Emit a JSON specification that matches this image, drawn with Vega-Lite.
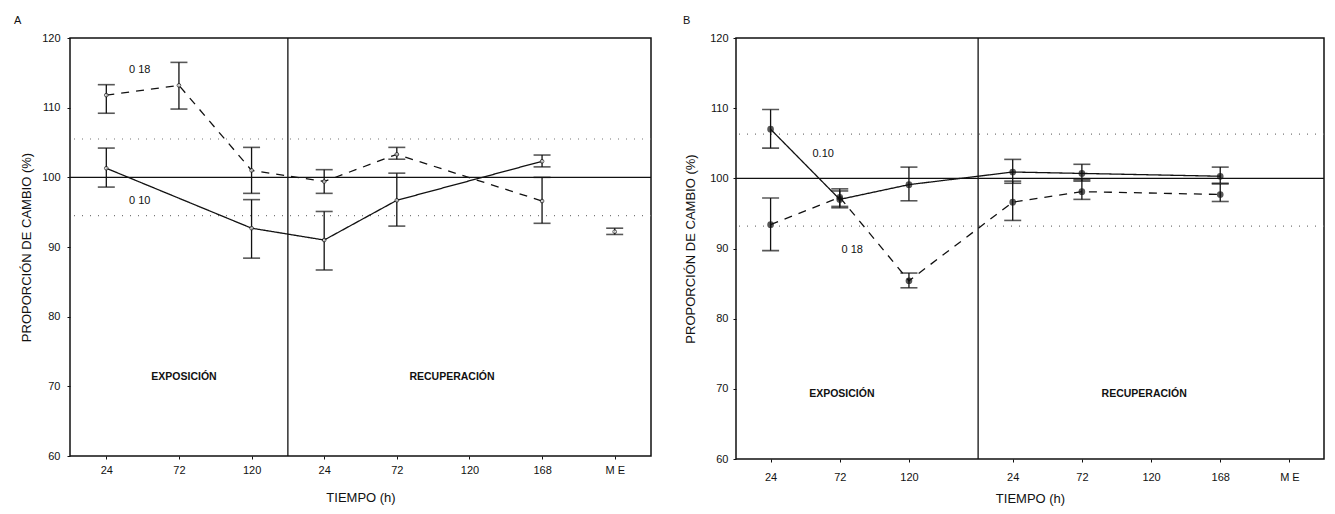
{
  "$schema": "https://vega.github.io/schema/vega-lite/v6.json",
  "background": "white",
  "padding": {"left": 13, "top": 14, "right": 5, "bottom": 5},
  "bounds": "flush",
  "spacing": 85,
  "config": {
    "font": "Liberation Sans",
    "view": {"stroke": "#111", "strokeWidth": 1.5},
    "axis": {"grid": false, "domain": false, "labelFontSize": 11, "titleFontSize": 13, "titleFontWeight": "normal", "labelColor": "#111", "titleColor": "#111", "tickColor": "#111", "tickSize": 3, "labelPadding": 6},
    "title": {"anchor": "start", "frame": "group", "fontSize": 11, "fontWeight": "normal", "color": "#111", "offset": 6}
  },
  "datasets": {
    "A": [
      {"serie": "0.18", "x": 0.5, "tiempo": "24", "fase": "exposición", "m": 111.8, "lo": 109.2, "hi": 113.3},
      {"serie": "0.18", "x": 1.5, "tiempo": "72", "fase": "exposición", "m": 113.2, "lo": 109.8, "hi": 116.5},
      {"serie": "0.18", "x": 2.5, "tiempo": "120", "fase": "exposición", "m": 101.0, "lo": 97.7, "hi": 104.3},
      {"serie": "0.18", "x": 3.5, "tiempo": "24", "fase": "recuperación", "m": 99.4, "lo": 97.7, "hi": 101.1},
      {"serie": "0.18", "x": 4.5, "tiempo": "72", "fase": "recuperación", "m": 103.3, "lo": 102.6, "hi": 104.3},
      {"serie": "0.18", "x": 6.5, "tiempo": "168", "fase": "recuperación", "m": 96.6, "lo": 93.4, "hi": 100.0},
      {"serie": "0.10", "x": 0.5, "tiempo": "24", "fase": "exposición", "m": 101.3, "lo": 98.6, "hi": 104.2},
      {"serie": "0.10", "x": 2.5, "tiempo": "120", "fase": "exposición", "m": 92.7, "lo": 88.4, "hi": 96.8},
      {"serie": "0.10", "x": 3.5, "tiempo": "24", "fase": "recuperación", "m": 91.0, "lo": 86.7, "hi": 95.1},
      {"serie": "0.10", "x": 4.5, "tiempo": "72", "fase": "recuperación", "m": 96.7, "lo": 93.0, "hi": 100.6},
      {"serie": "0.10", "x": 6.5, "tiempo": "168", "fase": "recuperación", "m": 102.3, "lo": 101.5, "hi": 103.2},
      {"serie": "ME", "x": 7.5, "tiempo": "M E", "fase": "recuperación", "m": 92.2, "lo": 91.8, "hi": 92.7}
    ],
    "B": [
      {"serie": "0.10", "x": 0.5, "tiempo": "24", "fase": "exposición", "m": 107.0, "lo": 104.3, "hi": 109.8},
      {"serie": "0.10", "x": 1.5, "tiempo": "72", "fase": "exposición", "m": 97.0, "lo": 95.8, "hi": 98.5},
      {"serie": "0.10", "x": 2.5, "tiempo": "120", "fase": "exposición", "m": 99.1, "lo": 96.8, "hi": 101.6},
      {"serie": "0.10", "x": 4, "tiempo": "24", "fase": "recuperación", "m": 100.9, "lo": 99.3, "hi": 102.7},
      {"serie": "0.10", "x": 5, "tiempo": "72", "fase": "recuperación", "m": 100.7, "lo": 99.6, "hi": 102.0},
      {"serie": "0.10", "x": 7, "tiempo": "168", "fase": "recuperación", "m": 100.3, "lo": 99.3, "hi": 101.6},
      {"serie": "0.18", "x": 0.5, "tiempo": "24", "fase": "exposición", "m": 93.4, "lo": 89.7, "hi": 97.2},
      {"serie": "0.18", "x": 1.5, "tiempo": "72", "fase": "exposición", "m": 97.3, "lo": 96.0, "hi": 98.2},
      {"serie": "0.18", "x": 2.5, "tiempo": "120", "fase": "exposición", "m": 85.4, "lo": 84.4, "hi": 86.5},
      {"serie": "0.18", "x": 4, "tiempo": "24", "fase": "recuperación", "m": 96.6, "lo": 94.0, "hi": 99.6},
      {"serie": "0.18", "x": 5, "tiempo": "72", "fase": "recuperación", "m": 98.1, "lo": 97.0, "hi": 99.8},
      {"serie": "0.18", "x": 7, "tiempo": "168", "fase": "recuperación", "m": 97.7, "lo": 96.7, "hi": 99.2}
    ],
    "refA": [{"y": 100, "tipo": "base"}, {"y": 105.5, "tipo": "limite"}, {"y": 94.5, "tipo": "limite"}],
    "refB": [{"y": 100, "tipo": "base"}, {"y": 106.3, "tipo": "limite"}, {"y": 93.2, "tipo": "limite"}],
    "textA": [
      {"x": 0.96, "y": 115.4, "t": "0 18", "tipo": "serie"},
      {"x": 0.96, "y": 96.6, "t": "0 10", "tipo": "serie"},
      {"x": 1.57, "y": 71.3, "t": "EXPOSICIÓN", "tipo": "fase"},
      {"x": 5.26, "y": 71.3, "t": "RECUPERACIÓN", "tipo": "fase"}
    ],
    "textB": [
      {"x": 1.26, "y": 103.4, "t": "0.10", "tipo": "serie"},
      {"x": 1.68, "y": 89.8, "t": "0 18", "tipo": "serie"},
      {"x": 1.53, "y": 69.3, "t": "EXPOSICIÓN", "tipo": "fase"},
      {"x": 5.9, "y": 69.2, "t": "RECUPERACIÓN", "tipo": "fase"}
    ]
  },
  "hconcat": [
    {
      "width": 581,
      "height": 418,
      "title": {"text": "A", "dx": -56},
      "encoding": {
        "x": {"field": "x", "type": "quantitative", "scale": {"domain": [0, 8], "nice": false, "zero": false},
          "axis": {"values": [0.5, 1.5, 2.5, 3.5, 4.5, 5.5, 6.5, 7.5], "labelExpr": "['24','72','120','24','72','120','168','M E'][floor(datum.value)]", "title": "TIEMPO (h)", "titlePadding": 16, "labelPadding": 5}},
        "y": {"type": "quantitative", "scale": {"domain": [60, 120], "nice": false, "zero": false},
          "axis": {"values": [60, 70, 80, 90, 100, 110, 120], "title": "PROPORCIÓN DE CAMBIO (%)", "titlePadding": 8, "labelPadding": 7}}
      },
      "layer": [
        {"data": {"name": "refA"}, "transform": [{"filter": "datum.tipo === 'limite'"}], "mark": {"type": "rule", "color": "#777", "strokeDash": [1, 7], "strokeWidth": 1.2}, "encoding": {"y": {"field": "y"}, "x": null}},
        {"data": {"name": "refA"}, "transform": [{"filter": "datum.tipo === 'base'"}], "mark": {"type": "rule", "color": "#111", "strokeWidth": 1.3}, "encoding": {"y": {"field": "y"}, "x": null}},
        {"data": {"values": [{"x": 3}]}, "mark": {"type": "rule", "color": "#111", "strokeWidth": 1.3}, "encoding": {"x": {"field": "x", "type": "quantitative"}}},
        {"data": {"name": "A"}, "mark": {"type": "rule", "color": "#111", "strokeWidth": 1.3}, "encoding": {"y": {"field": "lo"}, "y2": {"field": "hi"}}},
        {"data": {"name": "A"}, "mark": {"type": "tick", "orient": "horizontal", "color": "#111", "size": 17, "thickness": 1.6}, "encoding": {"y": {"field": "lo"}}},
        {"data": {"name": "A"}, "mark": {"type": "tick", "orient": "horizontal", "color": "#111", "size": 17, "thickness": 1.6}, "encoding": {"y": {"field": "hi"}}},
        {"data": {"name": "A"}, "transform": [{"filter": "datum.serie !== 'ME'"}], "mark": {"type": "line", "color": "#111", "strokeWidth": 1.3},
          "encoding": {"y": {"field": "m"}, "detail": {"field": "serie"}, "strokeDash": {"field": "serie", "type": "nominal", "scale": {"domain": ["0.10", "0.18"], "range": [[1, 0], [8, 7]]}, "legend": null}}},
        {"data": {"name": "A"}, "mark": {"type": "point", "shape": "circle", "size": 14, "filled": true, "fill": "white", "stroke": "#111", "strokeWidth": 1}, "encoding": {"y": {"field": "m"}}},
        {"data": {"name": "textA"}, "transform": [{"filter": "datum.tipo === 'serie'"}], "mark": {"type": "text", "fontSize": 11, "color": "#111"}, "encoding": {"y": {"field": "y"}, "text": {"field": "t"}}},
        {"data": {"name": "textA"}, "transform": [{"filter": "datum.tipo === 'fase'"}], "mark": {"type": "text", "fontSize": 10.5, "fontWeight": "bold", "color": "#111"}, "encoding": {"y": {"field": "y"}, "text": {"field": "t"}}}
      ]
    },
    {
      "width": 588,
      "height": 421,
      "title": {"text": "B", "dx": -53},
      "encoding": {
        "x": {"field": "x", "type": "quantitative", "scale": {"domain": [0, 8.5], "nice": false, "zero": false},
          "axis": {"values": [0.5, 1.5, 2.5, 4, 5, 6, 7, 8], "labelExpr": "datum.value < 3 ? ['24','72','120'][floor(datum.value)] : ['24','72','120','168','M E'][round(datum.value) - 4]", "title": "TIEMPO (h)", "titlePadding": 10, "labelPadding": 9}},
        "y": {"type": "quantitative", "scale": {"domain": [60, 120], "nice": false, "zero": false},
          "axis": {"values": [60, 70, 80, 90, 100, 110, 120], "title": "PROPORCIÓN DE CAMBIO (%)", "titlePadding": 12, "labelPadding": 5}}
      },
      "layer": [
        {"data": {"name": "refB"}, "transform": [{"filter": "datum.tipo === 'limite'"}], "mark": {"type": "rule", "color": "#777", "strokeDash": [1, 7], "strokeWidth": 1.2}, "encoding": {"y": {"field": "y"}, "x": null}},
        {"data": {"name": "refB"}, "transform": [{"filter": "datum.tipo === 'base'"}], "mark": {"type": "rule", "color": "#111", "strokeWidth": 1.3}, "encoding": {"y": {"field": "y"}, "x": null}},
        {"data": {"values": [{"x": 3.5}]}, "mark": {"type": "rule", "color": "#111", "strokeWidth": 1.3}, "encoding": {"x": {"field": "x", "type": "quantitative"}}},
        {"data": {"name": "B"}, "mark": {"type": "rule", "color": "#111", "strokeWidth": 1.3}, "encoding": {"y": {"field": "lo"}, "y2": {"field": "hi"}}},
        {"data": {"name": "B"}, "mark": {"type": "tick", "orient": "horizontal", "color": "#111", "size": 17, "thickness": 1.6}, "encoding": {"y": {"field": "lo"}}},
        {"data": {"name": "B"}, "mark": {"type": "tick", "orient": "horizontal", "color": "#111", "size": 17, "thickness": 1.6}, "encoding": {"y": {"field": "hi"}}},
        {"data": {"name": "B"}, "mark": {"type": "line", "color": "#111", "strokeWidth": 1.3},
          "encoding": {"y": {"field": "m"}, "detail": {"field": "serie"}, "strokeDash": {"field": "serie", "type": "nominal", "scale": {"domain": ["0.10", "0.18"], "range": [[1, 0], [8, 7]]}, "legend": null}}},
        {"data": {"name": "B"}, "mark": {"type": "point", "shape": "circle", "size": 22, "filled": true, "fill": "#111", "stroke": "#111"}, "encoding": {"y": {"field": "m"}}},
        {"data": {"name": "textB"}, "transform": [{"filter": "datum.tipo === 'serie'"}], "mark": {"type": "text", "fontSize": 11, "color": "#111"}, "encoding": {"y": {"field": "y"}, "text": {"field": "t"}}},
        {"data": {"name": "textB"}, "transform": [{"filter": "datum.tipo === 'fase'"}], "mark": {"type": "text", "fontSize": 10.5, "fontWeight": "bold", "color": "#111"}, "encoding": {"y": {"field": "y"}, "text": {"field": "t"}}}
      ]
    }
  ]
}
